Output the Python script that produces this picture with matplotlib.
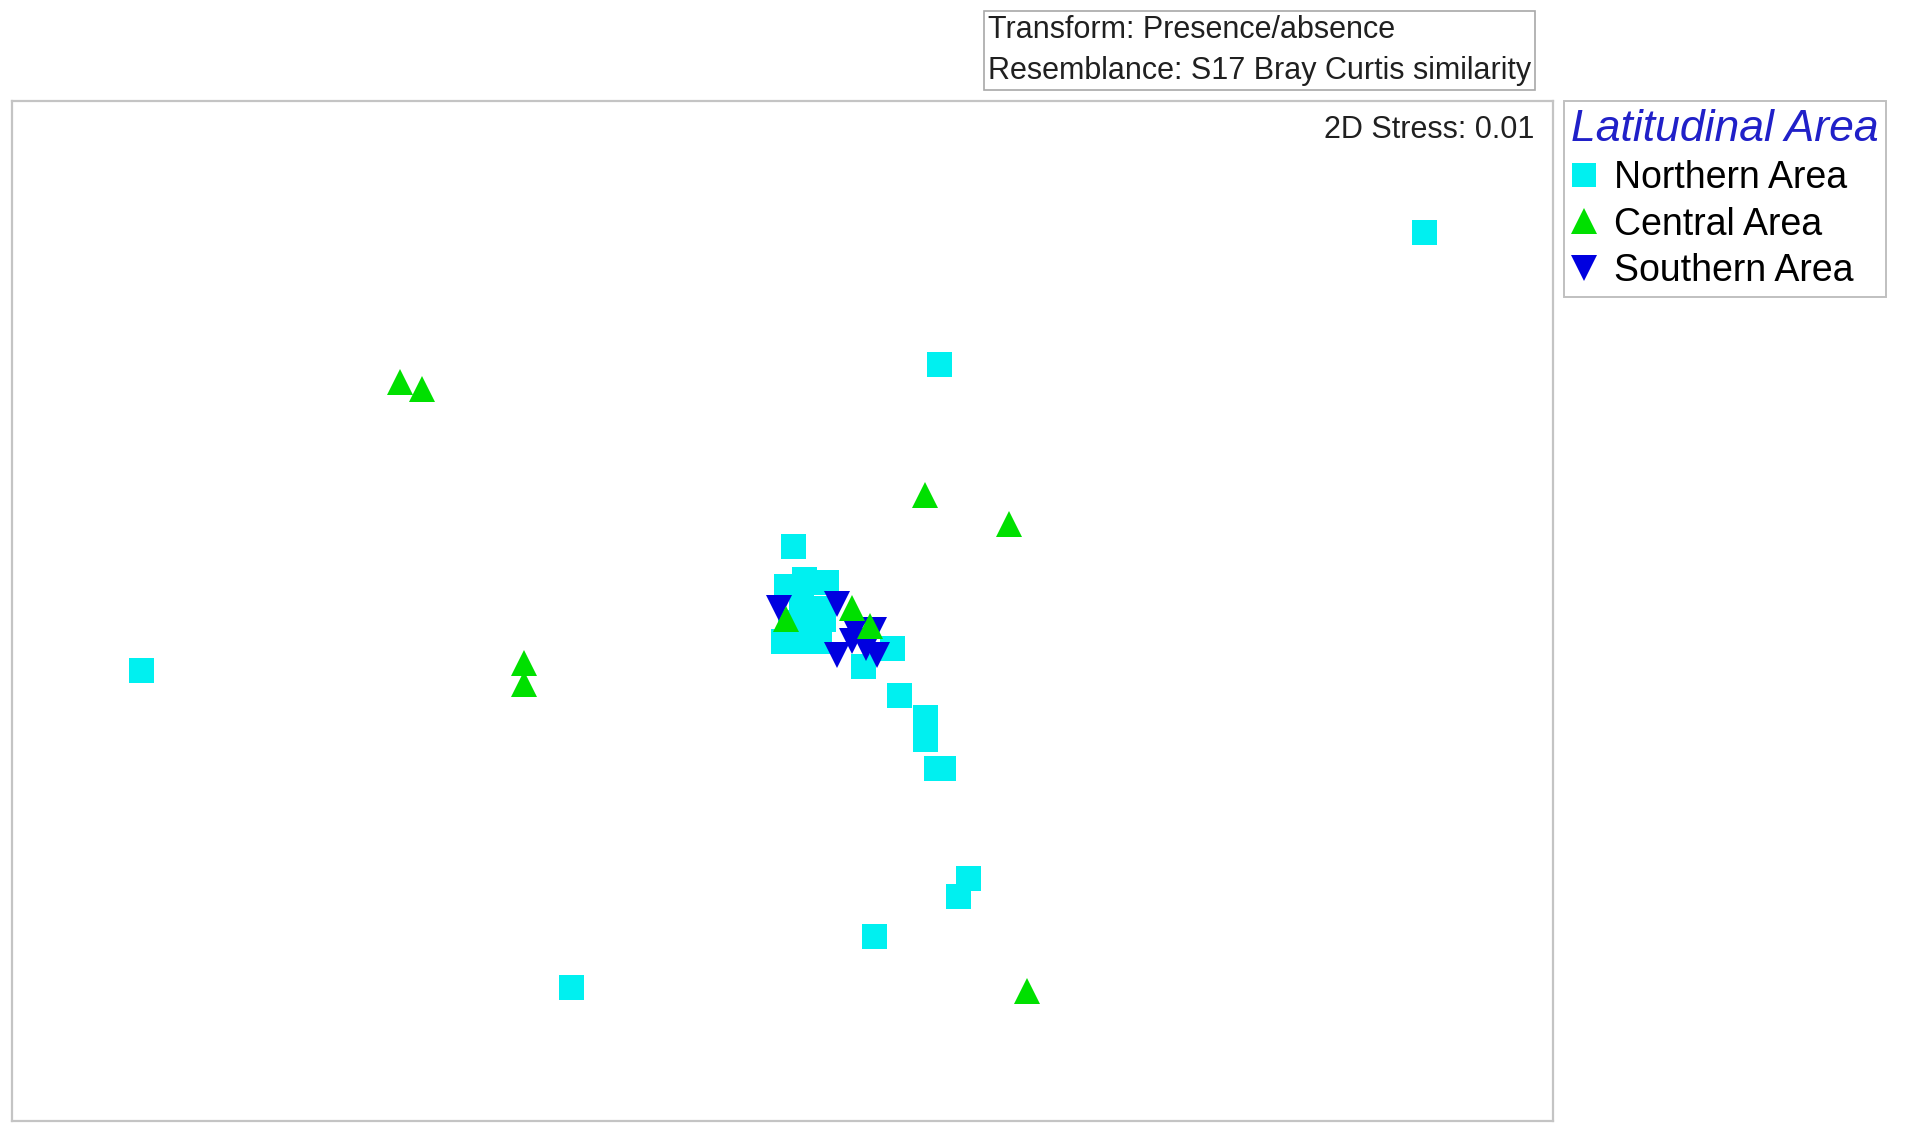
import matplotlib.pyplot as plt

plt.rcParams['font.family'] = ['Liberation Sans', 'DejaVu Sans']

# nMDS ordination coordinates per latitudinal area
northern_x = [1.76, 0.43, 0.03, -1.76, -0.58, 0.25, 0.48, 0.51, 0.32, 0.39, 0.39, 0.42, 0.44, 0.30, 0.22,
              0.01, 0.06, 0.12, 0.05, 0.10, 0.02, 0.07, 0.00, 0.05, 0.10, 0.11]
northern_y = [1.13, 0.77, 0.27, -0.07, -0.94, -0.80, -0.69, -0.64, -0.14, -0.20, -0.26, -0.34, -0.34, -0.01, -0.06,
              0.16, 0.18, 0.17, 0.11, 0.10, 0.06, 0.05, 0.01, 0.01, 0.01, 0.07]

central_x = [-1.05, -0.99, 0.39, 0.62, -0.71, -0.71, 0.67, 0.01, 0.19, 0.24]
central_y = [0.72, 0.70, 0.41, 0.33, -0.05, -0.11, -0.95, 0.07, 0.10, 0.05]

southern_x = [-0.01, 0.15, 0.20, 0.25, 0.23, 0.15, 0.26, 0.19]
southern_y = [0.10, 0.11, 0.04, 0.04, -0.01, -0.03, -0.03, 0.01]

groups = ['Northern Area', 'Central Area', 'Southern Area']
colors = ['#00f0f0', '#00e000', '#0000e0']
markers = ['s', '^', 'v']
sizes = [18, 19, 19]
layer = [1, 3, 2]

fig = plt.figure(figsize=(19.06, 11.23), dpi=100)
ax = fig.add_axes([0.0063, 0.0018, 0.8085, 0.9083])

data = [(northern_x, northern_y), (central_x, central_y), (southern_x, southern_y)]
handles = []
for (xs, ys), name, c, m, ms, z in zip(data, groups, colors, markers, sizes, layer):
    h, = ax.plot(xs, ys, linestyle='none', marker=m, markersize=ms, color=c,
                 markeredgewidth=0, label=name, zorder=z)
    handles.append(h)

ax.set_xlim(-2.113, 2.113)
ax.set_ylim(-1.307, 1.49)
ax.set_xticks([])
ax.set_yticks([])
for sp in ax.spines.values():
    sp.set_color('#c4c4c4')
    sp.set_linewidth(1.6)

ax.text(0.988, 0.986, '2D Stress: 0.01', transform=ax.transAxes, ha='right', va='top',
        fontsize=22, color='#202020')

# transform / resemblance box above the plot
fig.text(0.5184, 0.955, 'Transform: Presence/absence\nResemblance: S17 Bray Curtis similarity',
         ha='left', va='center', fontsize=22, color='#202020', linespacing=1.5,
         bbox=dict(boxstyle='square,pad=0.12', facecolor='white', edgecolor='#a8a8a8', linewidth=1.2))

leg = fig.legend(handles=handles, labels=groups, loc='upper left', bbox_to_anchor=(0.8205, 0.91),
                 title='Latitudinal Area', fontsize=27, title_fontsize=32, frameon=True, fancybox=False,
                 handlelength=0.7, handletextpad=0.45, borderpad=0.2, labelspacing=0.28,
                 markerscale=0.95, alignment='left', borderaxespad=0)
leg.get_title().set_color('#2020c8')
leg.get_title().set_fontstyle('italic')
leg.get_frame().set_edgecolor('#b0b0b0')
leg.get_frame().set_linewidth(1.4)

fig.savefig('out.png', dpi=100)
